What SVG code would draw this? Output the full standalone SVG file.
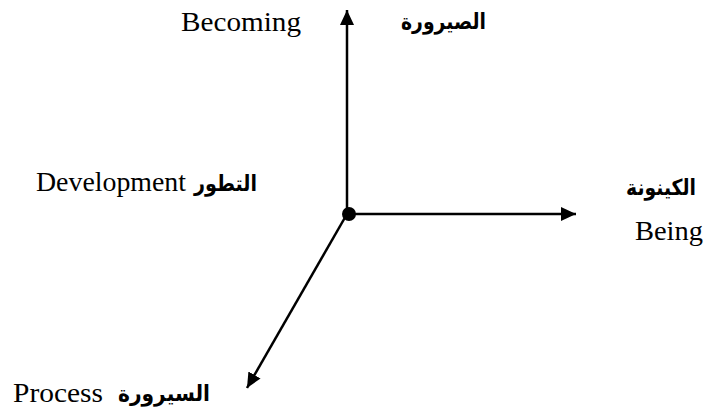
<svg xmlns="http://www.w3.org/2000/svg" width="707" height="410" viewBox="0 0 707 410">
<style>
.en{font-family:"Liberation Serif","Times New Roman",serif;font-size:27px;fill:#000}
.ar{font-family:"DejaVu Sans","Noto Sans",sans-serif;font-size:22px;font-weight:bold;fill:#000}
.ax{stroke:#000;stroke-width:2.5;fill:none}
</style>
<defs>
<marker id="ah" markerUnits="userSpaceOnUse" markerWidth="16" markerHeight="15" refX="15" refY="7" orient="auto">
<path d="M0,0 L15,7 L0,14 z" fill="#000"/>
</marker>
</defs>
<rect width="707" height="410" fill="#fff"/>
<g id="connectors">
<line class="ax" x1="347" y1="214" x2="347" y2="10" marker-end="url(#ah)"/>
<line class="ax" x1="349" y1="214" x2="576" y2="214" marker-end="url(#ah)"/>
<line class="ax" x1="347" y1="214" x2="247" y2="388" marker-end="url(#ah)"/>
</g>
<g id="origin"><circle cx="349" cy="214" r="7" fill="#000"/></g>
<g id="becoming">
<text class="en" x="181" y="31" textLength="120" lengthAdjust="spacingAndGlyphs">Becoming</text>
<text class="ar" x="401" y="29" textLength="85" lengthAdjust="spacingAndGlyphs">الصيرورة</text>
</g>
<g id="development">
<text class="en" x="36" y="191" textLength="150" lengthAdjust="spacingAndGlyphs">Development</text>
<text class="ar" x="194" y="191" textLength="63" lengthAdjust="spacingAndGlyphs">التطور</text>
</g>
<g id="being">
<text class="ar" x="626" y="195" textLength="70" lengthAdjust="spacingAndGlyphs">الكينونة</text>
<text class="en" x="635" y="240" textLength="68" lengthAdjust="spacingAndGlyphs">Being</text>
</g>
<g id="process">
<text class="en" x="13" y="402" textLength="90" lengthAdjust="spacingAndGlyphs">Process</text>
<text class="ar" x="118" y="401" textLength="92" lengthAdjust="spacingAndGlyphs">السيرورة</text>
</g>
</svg>
